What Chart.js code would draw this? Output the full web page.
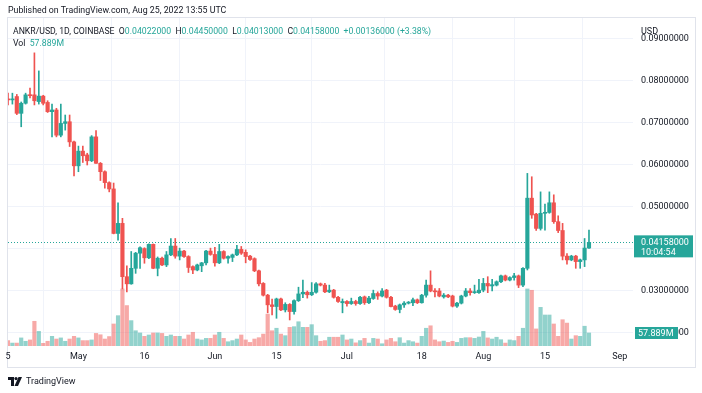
<!DOCTYPE html>
<html>
<head>
<meta charset="utf-8">
<script src="https://cdn.jsdelivr.net/npm/chart.js@4.4.0/dist/chart.umd.min.js"></script>
<style>
  html, body { margin: 0; padding: 0; background: #fff; }
  body { width: 702px; height: 393px; position: relative; overflow: hidden; font-family: Roboto, 'Liberation Sans', sans-serif; color: #131722; }
  #frame { position: absolute; left: 7px; top: 17px; width: 689px; height: 351px; border: 1px solid #e0e3eb; box-sizing: border-box; }
  #chart { position: absolute; left: 0; top: 0; }
  .txt { position: absolute; font-size: 8.7px; line-height: 12px; white-space: pre; }
  .up { color: #26a69a; }
  #logo { position: absolute; left: 8px; top: 375px; height: 12px; display: flex; align-items: center; font-size: 9px; color: #131722; }
  #logo svg { margin-right: 4px; }
</style>
</head>
<body>
<div id="frame"></div>
<canvas id="chart" width="702" height="393"></canvas>
<div class="txt" style="left:8px; top:4px; font-size:8.8px;">Published on TradingView.com, Aug 25, 2022 13:55 UTC</div>
<div class="txt" id="legend" style="left:13px; top:25px;"></div>
<div class="txt" id="volLegend" style="left:13px; top:37px;"></div>
<div class="txt" style="left:641px; top:25px; font-size:9px;">USD</div>
<div id="logo"><svg width="14" height="9" viewBox="0 0 14 9"><path d="M0 0h6v9h-3v-6h-3z" fill="#131722"/><circle cx="8" cy="1.6" r="1.6" fill="#131722"/><path d="M10.5 0h3.5l-4 9h-3.5z" fill="#131722"/></svg>TradingView</div>
<script>
document.addEventListener('DOMContentLoaded', function () {
  // Daily ANKR/USD candles, Apr 15 - Aug 25 2022
  const opens = [
    0.0757, 0.0755, 0.0763, 0.0723, 0.0747, 0.0767, 0.0767, 0.0751, 0.0764, 0.0749,
    0.0727, 0.0731, 0.0671, 0.0699, 0.0703, 0.0655, 0.0598, 0.0633, 0.0624, 0.0610,
    0.0667, 0.0604, 0.0584, 0.0558, 0.0543, 0.0437, 0.0461, 0.0334, 0.0317, 0.0354,
    0.0390, 0.0401, 0.0379, 0.0411, 0.0354, 0.0378, 0.0362, 0.0386, 0.0407, 0.0383,
    0.0395, 0.0382, 0.0358, 0.0350, 0.0360, 0.0367, 0.0395, 0.0387, 0.0367, 0.0394,
    0.0378, 0.0380, 0.0386, 0.0399, 0.0392, 0.0383, 0.0377, 0.0348, 0.0318, 0.0290,
    0.0267, 0.0263, 0.0281, 0.0255, 0.0268, 0.0251, 0.0277, 0.0293, 0.0297, 0.0291,
    0.0297, 0.0317, 0.0314, 0.0298, 0.0302, 0.0285, 0.0272, 0.0275, 0.0270, 0.0275,
    0.0270, 0.0286, 0.0272, 0.0282, 0.0294, 0.0288, 0.0302, 0.0285, 0.0264, 0.0256,
    0.0267, 0.0271, 0.0272, 0.0279, 0.0272, 0.0290, 0.0314, 0.0300, 0.0300, 0.0286,
    0.0290, 0.0288, 0.0264, 0.0271, 0.0288, 0.0300, 0.0296, 0.0296, 0.0302, 0.0318,
    0.0312, 0.0314, 0.0322, 0.0336, 0.0326, 0.0332, 0.0336, 0.0314, 0.0354, 0.0521,
    0.0483, 0.0449, 0.0485, 0.0487, 0.0510, 0.0465, 0.0444, 0.0383, 0.0374, 0.0383,
    0.0370, 0.0374, 0.04022
  ];
  const highs = [
    0.0771, 0.0771, 0.0768, 0.0750, 0.0771, 0.0783, 0.0867, 0.0824, 0.0766, 0.0753,
    0.0745, 0.0735, 0.0745, 0.0719, 0.0719, 0.0657, 0.0645, 0.0645, 0.0628, 0.0670,
    0.0682, 0.0606, 0.0586, 0.0560, 0.0557, 0.0510, 0.0473, 0.0360, 0.0394, 0.0392,
    0.0405, 0.0403, 0.0412, 0.0412, 0.0381, 0.0381, 0.0394, 0.0425, 0.0425, 0.0402,
    0.0397, 0.0384, 0.0360, 0.0364, 0.0368, 0.0397, 0.0402, 0.0404, 0.0411, 0.0396,
    0.0384, 0.0388, 0.0409, 0.0406, 0.0398, 0.0385, 0.0379, 0.0350, 0.0320, 0.0292,
    0.0281, 0.0283, 0.0283, 0.0272, 0.0270, 0.0279, 0.0309, 0.0326, 0.0300, 0.0320,
    0.0320, 0.0319, 0.0318, 0.0314, 0.0304, 0.0287, 0.0281, 0.0277, 0.0283, 0.0278,
    0.0287, 0.0288, 0.0287, 0.0302, 0.0298, 0.0306, 0.0304, 0.0287, 0.0266, 0.0269,
    0.0275, 0.0275, 0.0283, 0.0281, 0.0292, 0.0326, 0.0348, 0.0306, 0.0306, 0.0294,
    0.0292, 0.0290, 0.0273, 0.0290, 0.0306, 0.0306, 0.0314, 0.0328, 0.0330, 0.0334,
    0.0328, 0.0324, 0.0338, 0.0338, 0.0334, 0.0342, 0.0338, 0.0356, 0.0580, 0.0572,
    0.0485, 0.0536, 0.0507, 0.0536, 0.0529, 0.0479, 0.0461, 0.0389, 0.0385, 0.0385,
    0.0376, 0.0425, 0.0445
  ];
  const lows = [
    0.0743, 0.0745, 0.0720, 0.0691, 0.0745, 0.0760, 0.0743, 0.0745, 0.0743, 0.0725,
    0.0667, 0.0667, 0.0667, 0.0683, 0.0644, 0.0574, 0.0584, 0.0606, 0.0600, 0.0608,
    0.0604, 0.0563, 0.0545, 0.0536, 0.0436, 0.0421, 0.0305, 0.0298, 0.0316, 0.0342,
    0.0354, 0.0366, 0.0377, 0.0353, 0.0336, 0.0360, 0.0358, 0.0384, 0.0378, 0.0374,
    0.0380, 0.0344, 0.0341, 0.0348, 0.0346, 0.0362, 0.0385, 0.0359, 0.0365, 0.0376,
    0.0366, 0.0370, 0.0384, 0.0387, 0.0367, 0.0373, 0.0346, 0.0312, 0.0288, 0.0248,
    0.0243, 0.0235, 0.0253, 0.0250, 0.0231, 0.0245, 0.0275, 0.0284, 0.0283, 0.0289,
    0.0295, 0.0312, 0.0296, 0.0296, 0.0283, 0.0273, 0.0248, 0.0264, 0.0268, 0.0266,
    0.0268, 0.0268, 0.0270, 0.0280, 0.0280, 0.0286, 0.0283, 0.0262, 0.0254, 0.0248,
    0.0261, 0.0269, 0.0265, 0.0270, 0.0271, 0.0285, 0.0298, 0.0286, 0.0286, 0.0283,
    0.0284, 0.0262, 0.0261, 0.0269, 0.0286, 0.0290, 0.0294, 0.0294, 0.0298, 0.0296,
    0.0300, 0.0312, 0.0320, 0.0324, 0.0324, 0.0326, 0.0308, 0.0310, 0.0350, 0.0473,
    0.0444, 0.0445, 0.0445, 0.0485, 0.0461, 0.0439, 0.0374, 0.0364, 0.0372, 0.0354,
    0.0354, 0.0358, 0.04013
  ];
  const closes = [
    0.0755, 0.0757, 0.0723, 0.0747, 0.0767, 0.0765, 0.0753, 0.0764, 0.0747, 0.0727,
    0.0731, 0.0671, 0.0699, 0.0703, 0.0655, 0.0598, 0.0633, 0.0622, 0.0610, 0.0667,
    0.0604, 0.0584, 0.0558, 0.0543, 0.0437, 0.0461, 0.0334, 0.0317, 0.0354, 0.0390,
    0.0403, 0.0379, 0.0411, 0.0354, 0.0378, 0.0362, 0.0386, 0.0407, 0.0383, 0.0395,
    0.0382, 0.0356, 0.0350, 0.0362, 0.0367, 0.0395, 0.0387, 0.0367, 0.0394, 0.0378,
    0.0382, 0.0386, 0.0399, 0.0390, 0.0382, 0.0375, 0.0348, 0.0317, 0.0290, 0.0267,
    0.0263, 0.0281, 0.0255, 0.0268, 0.0251, 0.0277, 0.0293, 0.0297, 0.0291, 0.0297,
    0.0317, 0.0314, 0.0298, 0.0302, 0.0285, 0.0275, 0.0275, 0.0270, 0.0275, 0.0270,
    0.0285, 0.0272, 0.0283, 0.0294, 0.0288, 0.0300, 0.0285, 0.0263, 0.0256, 0.0267,
    0.0271, 0.0272, 0.0279, 0.0272, 0.0290, 0.0314, 0.0300, 0.0298, 0.0288, 0.0290,
    0.0286, 0.0264, 0.0271, 0.0288, 0.0300, 0.0296, 0.0298, 0.0302, 0.0318, 0.0312,
    0.0315, 0.0322, 0.0336, 0.0326, 0.0332, 0.0336, 0.0314, 0.0354, 0.0521, 0.0481,
    0.0449, 0.0485, 0.0487, 0.0510, 0.0465, 0.0444, 0.0383, 0.0374, 0.0383, 0.0370,
    0.0374, 0.04022, 0.04158
  ];
  // volume in millions
  const volumes = [
    24, 13, 13, 36, 21, 27, 110, 65, 12, 21, 43, 31, 36, 21, 31, 43, 36, 24, 24, 27,
    56, 50, 31, 42, 98, 135, 254, 180, 113, 68, 58, 43, 49, 58, 58, 56, 43, 49, 43, 43,
    31, 49, 61, 31, 27, 34, 34, 49, 61, 34, 19, 24, 31, 49, 27, 16, 31, 37, 53, 142,
    68, 79, 53, 46, 83, 86, 108, 83, 83, 95, 46, 21, 24, 39, 39, 39, 49, 27, 31, 14,
    24, 34, 13, 34, 31, 10, 27, 34, 19, 37, 13, 24, 19, 13, 43, 79, 90, 27, 19, 22,
    16, 21, 16, 34, 37, 37, 34, 40, 65, 36, 31, 39, 28, 13, 27, 24, 43, 79, 254, 248,
    76, 172, 138, 138, 98, 43, 117, 102, 31, 46, 43, 88, 57.889
  ];

  const priceTicks = [0.02, 0.03, 0.04, 0.05, 0.06, 0.07, 0.08, 0.09];
  const tickDates = ['Apr 15', 'May 1', 'May 16', 'Jun 1', 'Jun 15', 'Jul 1', 'Jul 18', 'Aug 1', 'Aug 15', 'Sep 1'];
  const tickText = ['5', 'May', '16', 'Jun', '15', 'Jul', '18', 'Aug', '15', 'Sep'];
  const countdown = '10:04:54';

  // day labels for the time axis (runs a little past the last candle)
  const monthNames = ['Jan', 'Feb', 'Mar', 'Apr', 'May', 'Jun', 'Jul', 'Aug', 'Sep', 'Oct', 'Nov', 'Dec'];
  const dates = [];
  for (let d = new Date(Date.UTC(2022, 3, 15)); d <= new Date(Date.UTC(2022, 8, 4)); d.setUTCDate(d.getUTCDate() + 1)) {
    dates.push(monthNames[d.getUTCMonth()] + ' ' + d.getUTCDate());
  }

  const UP = '#26a69a';
  const DOWN = '#ef5350';
  const isUp = closes.map((c, i) => c >= opens[i]);
  const last = closes.length - 1;

  // header legend
  const chg = closes[last] - closes[last - 1];
  const pct = chg / closes[last - 1] * 100;
  document.getElementById('legend').innerHTML =
    'ANKR/USD, 1D, COINBASE  O<span class="up">' + opens[last].toFixed(8) +
    '</span>  H<span class="up">' + highs[last].toFixed(8) +
    '</span>  L<span class="up">' + lows[last].toFixed(8) +
    '</span>  C<span class="up">' + closes[last].toFixed(8) +
    '</span>  <span class="up">+' + chg.toFixed(8) + ' (+' + pct.toFixed(2) + '%)</span>';
  document.getElementById('volLegend').innerHTML = 'Vol  <span class="up">' + volumes[last].toFixed(3) + 'M</span>';

  const font = { family: 'Roboto', size: 9 };

  // last price line + price scale badges
  const lastPricePlugin = {
    id: 'lastPrice',
    beforeDatasetsDraw(chart) {
      const { ctx, chartArea, scales } = chart;
      const y = Math.round(scales.y.getPixelForValue(closes[last])) + 0.5;
      ctx.save();
      ctx.strokeStyle = UP;
      ctx.lineWidth = 1;
      ctx.setLineDash([1, 2]);
      ctx.beginPath();
      ctx.moveTo(chartArea.left, y);
      ctx.lineTo(chartArea.right, y);
      ctx.stroke();
      ctx.restore();
    },
    afterDraw(chart) {
      const { ctx, chartArea, scales } = chart;
      const py = scales.y.getPixelForValue(closes[last]);
      const vy = scales.vol.getPixelForValue(volumes[last] * 1e6);
      ctx.save();
      ctx.fillStyle = UP;
      ctx.fillRect(chartArea.right + 1, py - 7, 59, 22);
      ctx.fillRect(chartArea.right + 2, vy - 6, 43, 12);
      ctx.fillStyle = '#fff';
      ctx.font = '9px Roboto';
      ctx.textBaseline = 'middle';
      ctx.fillText(closes[last].toFixed(8), chartArea.right + 8, py);
      ctx.fillText(countdown, chartArea.right + 8, py + 10);
      ctx.fillText(volumes[last].toFixed(3) + 'M', chartArea.right + 5, vy + 0.5);
      ctx.restore();
    }
  };

  new Chart(document.getElementById('chart').getContext('2d'), {
    type: 'bar',
    data: {
      labels: dates,
      datasets: [
        {
          label: 'body',
          data: opens.map((o, i) => [o, closes[i]]),
          backgroundColor: isUp.map(u => u ? UP : DOWN),
          barThickness: 3.5,
          minBarLength: 1,
          grouped: false,
          order: 0
        },
        {
          label: 'wick',
          data: lows.map((l, i) => [l, highs[i]]),
          backgroundColor: isUp.map(u => u ? UP : DOWN),
          barThickness: 1,
          grouped: false,
          order: 1
        },
        {
          label: 'volume',
          data: volumes.map(v => v * 1e6),
          yAxisID: 'vol',
          backgroundColor: isUp.map(u => u ? 'rgba(38,166,154,0.5)' : 'rgba(239,83,80,0.5)'),
          barThickness: 3.5,
          grouped: false,
          order: 2
        }
      ]
    },
    options: {
      responsive: false,
      animation: false,
      layout: { padding: { left: 8, top: 18, right: 7, bottom: 27 } },
      plugins: { legend: { display: false }, tooltip: { enabled: false } },
      scales: {
        x: {
          offset: false,
          grid: { color: '#f0f3fa', drawTicks: false },
          border: { display: false },
          ticks: {
            autoSkip: false, maxRotation: 0, padding: 5, color: '#131722', font: font,
            callback: (v, i) => tickText[i]
          },
          afterBuildTicks: s => { s.ticks = tickDates.map(d => ({ value: dates.indexOf(d) })); },
          afterFit: s => { s.height = 20; }
        },
        y: {
          position: 'right',
          min: 0.0169,
          max: 0.0950,
          grid: { color: '#f0f3fa', drawTicks: false },
          border: { display: false },
          ticks: { padding: 8, color: '#131722', font: font, callback: v => v.toFixed(8) },
          afterBuildTicks: s => { s.ticks = priceTicks.map(v => ({ value: v })); },
          afterFit: s => { s.width = 62; }
        },
        vol: {
          display: false,
          min: 0,
          max: 1460e6
        }
      }
    },
    plugins: [lastPricePlugin]
  });
});
</script>
</body>
</html>
